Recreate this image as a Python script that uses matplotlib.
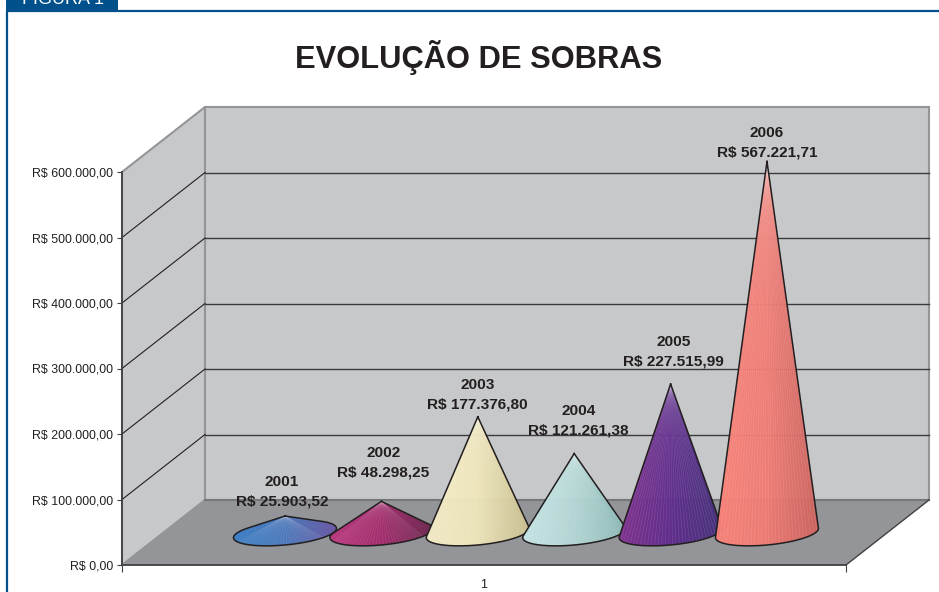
import numpy as np
import matplotlib
matplotlib.use("Agg")
import matplotlib.pyplot as plt
from matplotlib.colors import LinearSegmentedColormap
from matplotlib.patches import PathPatch, Polygon, Rectangle
from matplotlib.path import Path
from matplotlib.ticker import FuncFormatter

plt.rcParams['font.family'] = ['Liberation Sans', 'DejaVu Sans']

years = ["2001", "2002", "2003", "2004", "2005", "2006"]
sobras = [25903.52, 48298.25, 177376.80, 121261.38, 227515.99, 567221.71]
sobras_txt = ["R$ 25.903,52", "R$ 48.298,25", "R$ 177.376,80",
              "R$ 121.261,38", "R$ 227.515,99", "R$ 567.221,71"]
yticks = [0, 100000, 200000, 300000, 400000, 500000, 600000]

# left, middle, right colour of each cone
cone_colors = [
    ["#3c7fc8", "#4a78bc", "#6a58a6"],
    ["#bc3880", "#a42a6c", "#6e2850"],
    ["#f6eec8", "#efe6ba", "#cbc190"],
    ["#c8e8e8", "#b4d8d6", "#8fbcb8"],
    ["#80308e", "#5e2a8c", "#44307a"],
    ["#fb8279", "#f07a72", "#cc625e"],
]
# where the two label lines sit relative to the apex, in pixels
label_dx = [-3, 2, 0, 4, 3, 0]
label_dy = [8, 22, 5, 16, 15, 2]

W, H = 939, 592
BLUE = "#00508c"
DARK = "#231f20"
PX = 600000 / 393          # value per pixel
STEP = 96.4                # pixels per category
xmin = -163 / STEP
xmax = xmin + 724 / STEP
DX = 83 / STEP             # depth of the box
DY = 65 * PX
BASE = 32 * PX             # cones stand in the middle of the floor

fig = plt.figure(figsize=(W / 100, H / 100), dpi=100)

# page furniture in pixels
bg = fig.add_axes([0, 0, 1, 1])
bg.set_xlim(0, W)
bg.set_ylim(H, 0)
bg.axis("off")
bg.add_patch(Rectangle((6, 0), 112, 12, color=BLUE, lw=0))
bg.plot([7, 7], [11, H], color=BLUE, lw=1.6, solid_capstyle="butt")
bg.plot([6, W], [11, 11], color=BLUE, lw=1.6, solid_capstyle="butt")
bg.text(63, 4, "FIGURA 1", color="white", fontsize=13, ha="center", va="baseline")
bg.text(479, 68, "EVOLUÇÃO DE SOBRAS", color=DARK, fontsize=22.2, fontweight="bold",
        ha="center", va="baseline")

ax = fig.add_axes([122 / W, (H - 565) / H, 724 / W, 393 / H])
ax.patch.set_visible(False)

# box: left wall, back wall, floor
wall = "#c7c8ca"
edge = "#939598"
ax.add_patch(Polygon([(xmin, 0), (xmin + DX, DY), (xmin + DX, 600000 + DY - 0), (xmin, 600000)],
                     closed=True, fc=wall, ec=edge, lw=1.5, clip_on=False, zorder=1))
ax.add_patch(Polygon([(xmin + DX, DY), (xmax + DX, DY), (xmax + DX, 600000 + DY), (xmin + DX, 600000 + DY)],
                     closed=True, fc=wall, ec=edge, lw=1.5, clip_on=False, zorder=1))
ax.add_patch(Polygon([(xmin, 0), (xmin + DX, DY), (xmax + DX, DY), (xmax, 0)],
                     closed=True, fc="#939598", ec="none", clip_on=False, zorder=2))
for v in yticks[1:-1]:
    ax.plot([xmin, xmin + DX], [v, v + DY], color=DARK, lw=0.8, clip_on=False, zorder=3)
    ax.plot([xmin + DX, xmax + DX], [v + DY, v + DY], color="#3a3a3c", lw=1.0, clip_on=False, zorder=3)
ax.plot([xmin + DX, xmax + DX], [DY, DY], color="#77787b", lw=1.5, clip_on=False, zorder=3)
ax.plot([xmax, xmax + DX], [0, DY], color="#414042", lw=1.0, clip_on=False, zorder=3)

# cones
a = 51.5 / STEP
b = 12 * PX
shear = 0.09 * PX * STEP
t = np.linspace(0, 2 * np.pi, 361)[:-1]
for i, v in enumerate(sobras):
    ex = i + a * np.cos(t)
    ey = BASE - b * np.sin(t) + shear * (ex - i)
    apex_y = BASE + v
    # tangent points seen from the apex, measured in pixels
    ang = np.arctan2((ex - i) * STEP, (apex_y - ey) / PX)
    k_l, k_r = np.argmin(ang), np.argmax(ang)
    idx = np.arange(k_r, k_l + 1) if k_r < k_l else np.r_[k_r:360, 0:k_l + 1]
    outline = np.vstack([[i, apex_y], np.c_[ex[idx], ey[idx]], [i, apex_y]])

    cmap = LinearSegmentedColormap.from_list("c", cone_colors[i])
    im = ax.imshow(np.linspace(0, 1, 200)[None, :], cmap=cmap, aspect="auto",
                   extent=[i - a, i + a, ey.min(), apex_y], zorder=4 + i * 0.1, alpha=0.96)
    clip = PathPatch(Path(outline), transform=ax.transData, fc="none", ec="none")
    ax.add_patch(clip)
    im.set_clip_path(clip)
    for x_end in np.linspace(i - a, i + a, 30):
        ln, = ax.plot([i, x_end], [apex_y, BASE - b], color="white", alpha=0.12, lw=0.5,
                      zorder=4 + i * 0.1 + 0.01)
        ln.set_clip_path(clip)
    ax.plot(outline[:, 0], outline[:, 1], color=DARK, lw=1.1, clip_on=False,
            zorder=4 + i * 0.1 + 0.02, solid_joinstyle="round")
    ax.annotate(years[i] + "\n" + sobras_txt[i], (i, apex_y),
                xytext=(label_dx[i] * 0.72, label_dy[i] * 0.72), textcoords="offset points",
                ha="center", va="bottom", fontsize=11.1, fontweight="bold", color=DARK,
                linespacing=1.5, zorder=10, annotation_clip=False)

ax.set_xlim(xmin, xmax)
ax.set_ylim(0, 600000)

# axes
for s in ["top", "right"]:
    ax.spines[s].set_visible(False)
for s in ["left", "bottom"]:
    ax.spines[s].set_color("#414042")
    ax.spines[s].set_linewidth(1.3)
    ax.spines[s].set_zorder(5)
ax.set_yticks(yticks)
ax.yaxis.set_major_formatter(FuncFormatter(
    lambda v, p: "R$ " + f"{v:,.2f}".replace(",", "X").replace(".", ",").replace("X", ".")))
ax.tick_params(axis="y", length=3.6, width=0.8, color="#414042", labelsize=8.9,
               labelcolor=DARK, pad=3)
ax.set_xticks([xmin, xmax])
ax.set_xticklabels(["", ""])
ax.tick_params(axis="x", length=5, width=0.8, color="#414042")
ax.set_xticks([(xmin + xmax) / 2], minor=True)
ax.set_xticklabels(["1"], minor=True, fontsize=8.9, color=DARK)
ax.tick_params(axis="x", which="minor", length=0, pad=10)

fig.savefig("out.png", dpi=100)
plt.close(fig)
